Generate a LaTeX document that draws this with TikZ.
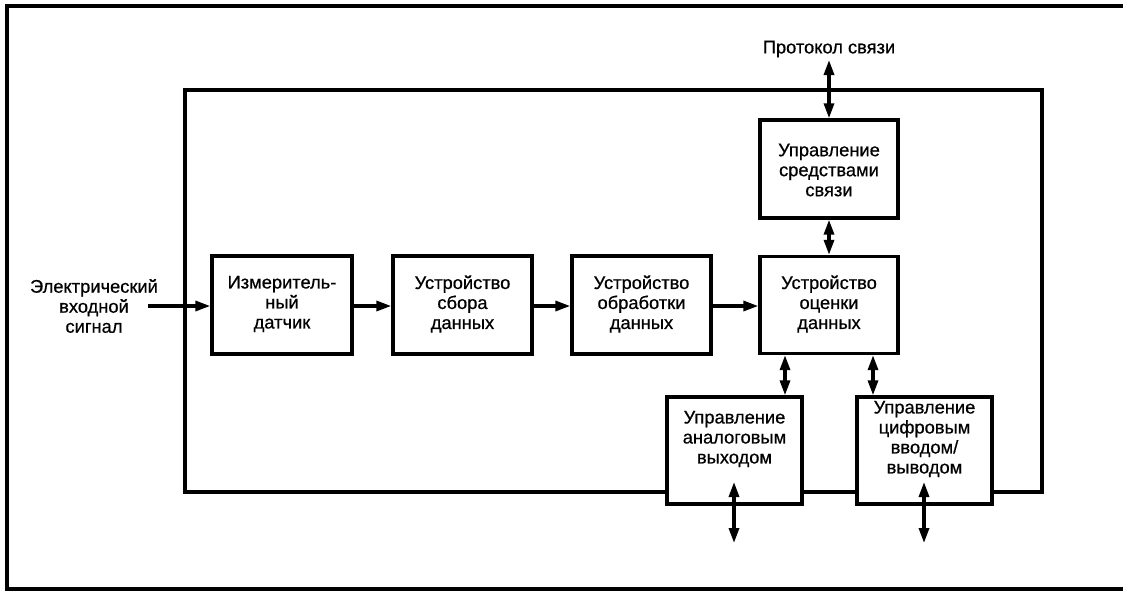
\documentclass[tikz,border=0pt]{standalone}
\usepackage{fontspec}
\setmainfont{Liberation Sans}[FakeBold=0.6]
\usetikzlibrary{arrows.meta}
\begin{document}
\begin{tikzpicture}[x=1pt,y=-1pt,
  frame/.style={line width=3.2pt},
  blk/.style={draw,line width=3.4pt,fill=white,inner sep=0pt},
  txt/.style={align=center,inner sep=0pt,font=\fontsize{18.3}{20}\selectfont},
  conn/.style={line width=3.2pt,-{Triangle[length=15pt,width=10pt]}},
  bconn/.style={line width=3.2pt,{Triangle[length=15pt,width=10pt]}-{Triangle[length=15pt,width=10pt]}}
]
\useasboundingbox (0,0) rectangle (1123,590);
% outer frame (open at right)
\draw[frame] (1124,6) -- (7,6) -- (7,589) -- (1124,589);
% inner frame
\draw[frame] (185,90) rectangle (1042,492);

% blocks
\node[blk,minimum width=140,minimum height=98] (b1) at (282,305) {};
\node[txt] (t1) at (282,304) {Измеритель-\\ный\\датчик};
\node[blk,minimum width=139,minimum height=98] (b2) at (462.5,305) {};
\node[txt] (t2) at (462.5,304) {Устройство\\сбора\\данных};
\node[blk,minimum width=139,minimum height=98] (b3) at (641.5,305) {};
\node[txt] (t3) at (641.5,304) {Устройство\\обработки\\данных};
\node[blk,minimum width=138,minimum height=97] (b4) at (829,305) {};
\node[txt] (t4) at (829,304) {Устройство\\оценки\\данных};
\node[blk,minimum width=138,minimum height=98] (bc) at (829,169) {};
\node[txt] (tc) at (829,170) {Управление\\средствами\\связи};
\node[blk,minimum width=135,minimum height=107] (ba) at (734.5,450.5) {};
\node[txt] (ta) at (734.5,439) {Управление\\аналоговым\\выходом};
\node[blk,minimum width=135,minimum height=107] (bd) at (924.5,450.5) {};
\node[txt] (td) at (924.5,439) {Управление\\цифровым\\вводом/\\выводом};

% labels
\node[txt] (tin) at (94,306) {Электрический\\входной\\сигнал};
\node[txt] (tp) at (829,49) {Протокол связи};

% coordinates
\coordinate (inS) at (148,306);
\coordinate (pTop) at (829,60);
\coordinate (aIn) at (734,482);
\coordinate (aOut) at (734,543);
\coordinate (dIn) at (924,482);
\coordinate (dOut) at (924,543);

% connectors
\draw[conn] (inS) -- (b1.west |- inS);
\draw[conn] (b1.east |- inS) -- (b2.west |- inS);
\draw[conn] (b2.east |- inS) -- (b3.west |- inS);
\draw[conn] (b3.east |- inS) -- (b4.west |- inS);
\draw[bconn] (pTop) -- (bc.north);
\draw[bconn] (bc.south) -- (b4.north);
\draw[bconn] (b4.south -| 785,0) -- (ba.north -| 785,0);
\draw[bconn] (b4.south -| 873,0) -- (bd.north -| 873,0);
\draw[bconn] (aIn) -- (aOut);
\draw[bconn] (dIn) -- (dOut);
\end{tikzpicture}
\end{document}
